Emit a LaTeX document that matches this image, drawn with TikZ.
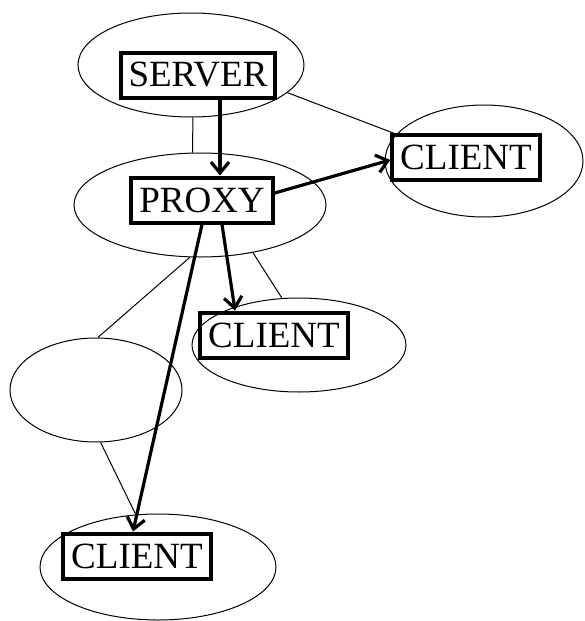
\documentclass[tikz,border=0pt]{standalone}
\usepackage{fontspec}
\setmainfont{Liberation Serif}
\usetikzlibrary{shapes.geometric,arrows.meta}

\def\unit{1pt}
\tikzstyle{cluster}=[ellipse,draw,line width=1pt,inner sep=0pt]
\tikzstyle{host}=[draw,line width=4pt,inner xsep=8pt,inner ysep=0pt,minimum height=45pt,font=\fontsize{37}{39}\selectfont]
\tikzstyle{link}=[line width=1pt]
\tikzstyle{flow}=[line width=3.2pt,-{Straight Barb[length=11pt,width=18pt]}]

\begin{document}
\begin{tikzpicture}[x=\unit,y=-\unit]
       \useasboundingbox (0,0) rectangle (584,621);
       \foreach \pos/\w/\h/\name in {{(191,65)/226pt/104pt/e1}, {(200,205)/252pt/104pt/e2}, {(484,161)/198pt/112pt/e3}, {(299,345)/214pt/94pt/e4}, {(96,390)/172pt/104pt/e5}, {(158,567)/236pt/106pt/e6}} {
           \node[cluster,minimum width=\w,minimum height=\h] (\name) at \pos {};
       }

       \draw[link] (e1.272) -- (e2.98);
       \draw[link] (e1.344) -- (e3.163);
       \draw[link] (e2.318) -- (e4.110);
       \draw[link] (e2.259) -- (e5.88);
       \draw[link] (e5.275) -- (e6.113);

       \node[host] (server) at (198,75) {SERVER};
       \node[host] (proxy) at (202,200) {PROXY};
       \node[host] (client1) at (466,157) {CLIENT};
       \node[host] (client2) at (274,335) {CLIENT};
       \node[host] (client3) at (137,556) {CLIENT};

       \draw[flow] ([xshift=22pt]server.south) -- ([xshift=18pt]proxy.north);
       \draw[flow] ([yshift=7pt]proxy.east) -- ([yshift=-3pt]client1.west);
       \draw[flow] ([xshift=20pt]proxy.south) -- ([xshift=-39pt]client2.north);
       \draw[flow] (proxy.south) -- ([xshift=-4pt]client3.north);
\end{tikzpicture}
\end{document}
